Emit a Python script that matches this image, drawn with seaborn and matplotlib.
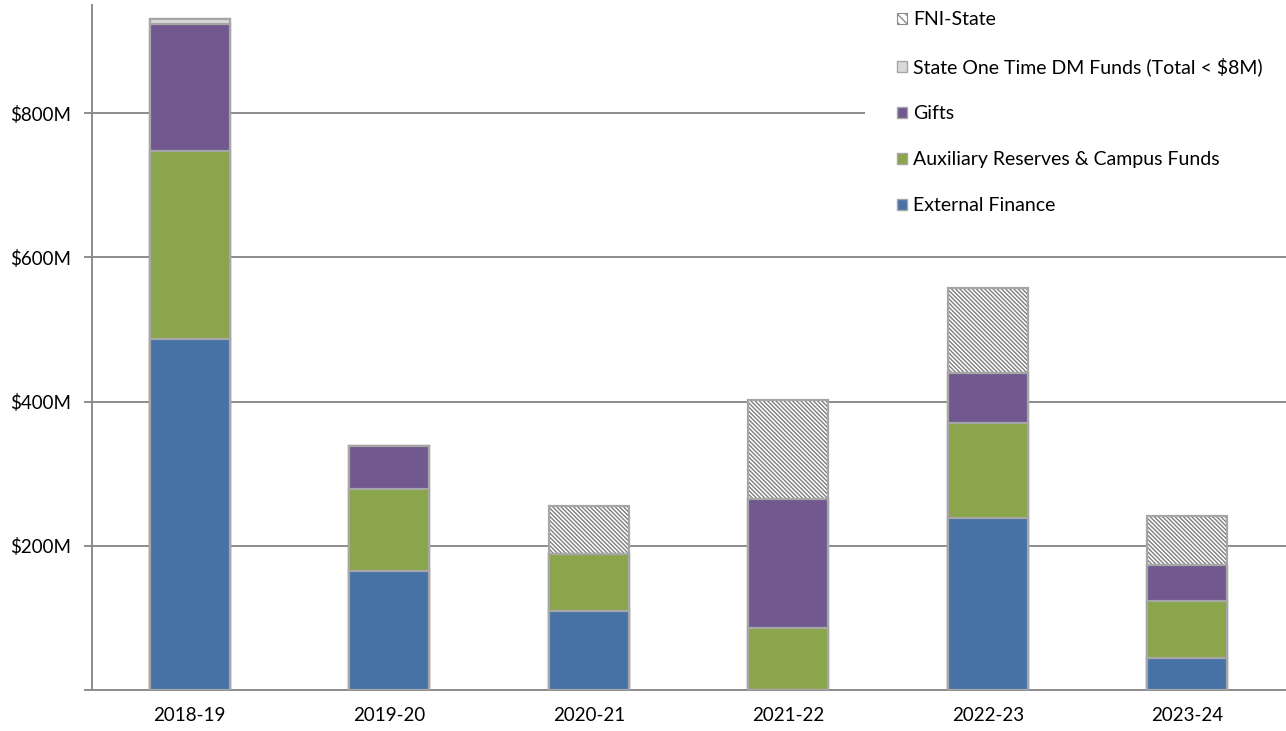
import numpy as np
import pandas as pd
import matplotlib
matplotlib.use("Agg")
import matplotlib.pyplot as plt
import matplotlib.patches as mpatches
from matplotlib.ticker import FixedLocator, FuncFormatter
import seaborn as sns

# 数据（单位：百万美元），按堆叠顺序从下往上
years = ["2018-19", "2019-20", "2020-21", "2021-22", "2022-23", "2023-24"]
external_finance = [487, 165, 110, 0, 239, 44]
aux_reserves = [261, 114, 78, 86, 131, 80]
gifts = [175, 60, 0, 179, 69, 50]
state_one_time = [7, 0, 0, 0, 0, 0]
fni_state = [0, 0, 67, 137, 118, 67]

series_names = ["External Finance", "Auxiliary Reserves & Campus Funds", "Gifts",
                "State One Time DM Funds (Total < \\$8M)", "FNI-State"]
series_colors = ["#4672A6", "#8AA54B", "#71588E", "#D9D9D9", "white"]
y_ticks = [0, 200, 400, 600, 800]

EDGE = "#A6A6A6"
GRID = "#8C8C8C"
HATCH = "\\" * 8

sns.set_style("white")
plt.rcParams["font.family"] = ["Lato", "DejaVu Sans"]
plt.rcParams["hatch.linewidth"] = 1.0

df = pd.DataFrame({"Year": years,
                   series_names[0]: external_finance,
                   series_names[1]: aux_reserves,
                   series_names[2]: gifts,
                   series_names[3]: state_one_time,
                   series_names[4]: fni_state})
# 累计高度：从最上层开始画，下层覆盖上层
cum = df[series_names].cumsum(axis=1)

fig = plt.figure(figsize=(12.86, 7.31), dpi=100)
ax = fig.add_axes([92 / 1286, 41 / 731, 1194 / 1286, 685 / 731])

# 顶层 FNI-State：先画斜线填充，再画外框
sns.barplot(x=df["Year"], y=cum[series_names[4]], color="white", saturation=1,
            width=0.4, linewidth=0, ax=ax, zorder=3)
for bar in ax.containers[-1]:
    bar.set_hatch(HATCH)
    bar.set_edgecolor("#7F7F7F")
    bar.set_linewidth(0)
sns.barplot(x=df["Year"], y=cum[series_names[4]], color=EDGE, fill=False,
            width=0.4, linewidth=1.6, ax=ax, zorder=3)

for name, color in zip(series_names[3::-1], series_colors[3::-1]):
    sns.barplot(x=df["Year"], y=cum[name], color=color, saturation=1,
                width=0.4, edgecolor=EDGE, linewidth=1.6, ax=ax, zorder=3)

ax.set_xlim(-0.49, -0.49 + 1194 / 199.5)
ax.set_ylim(0, 950)
ax.yaxis.set_major_locator(FixedLocator(y_ticks))
ax.yaxis.set_major_formatter(FuncFormatter(lambda v, p: f"\\${int(v)}M" if v > 0 else ""))
ax.grid(axis="y", color=GRID, linewidth=1.4)
ax.set_axisbelow(True)
ax.set_xlabel("")
ax.set_ylabel("")

for side in ["top", "right"]:
    ax.spines[side].set_visible(False)
for side in ["left", "bottom"]:
    ax.spines[side].set_color(GRID)
    ax.spines[side].set_linewidth(1.4)

ax.tick_params(axis="y", left=True, length=6, width=1.4, color=GRID, pad=9,
               labelsize=13.5, labelcolor="black")
ax.tick_params(axis="x", length=0, pad=12, labelsize=13.5, labelcolor="black")

# 图例：倒序，白底遮住网格线
handles = []
for name, color in zip(series_names[::-1], series_colors[::-1]):
    if name == "FNI-State":
        h = mpatches.Patch(facecolor="white", edgecolor="#8C8C8C", hatch="\\" * 4,
                           linewidth=0.8, label=name)
    else:
        h = mpatches.Patch(facecolor=color, edgecolor=EDGE, linewidth=1.0, label=name)
    handles.append(h)
leg = fig.legend(handles=handles, loc="upper left",
                 bbox_to_anchor=(865 / 1286, 1.028, 440 / 1286, 0), mode="expand",
                 frameon=True, facecolor="white", edgecolor="none", framealpha=1,
                 fontsize=14, handlelength=0.52, handleheight=0.52, handletextpad=0.3,
                 labelspacing=1.49, borderpad=1.64, borderaxespad=0)
for t in leg.get_texts():
    t.set_color("black")

plt.savefig("out.png", dpi=100)
